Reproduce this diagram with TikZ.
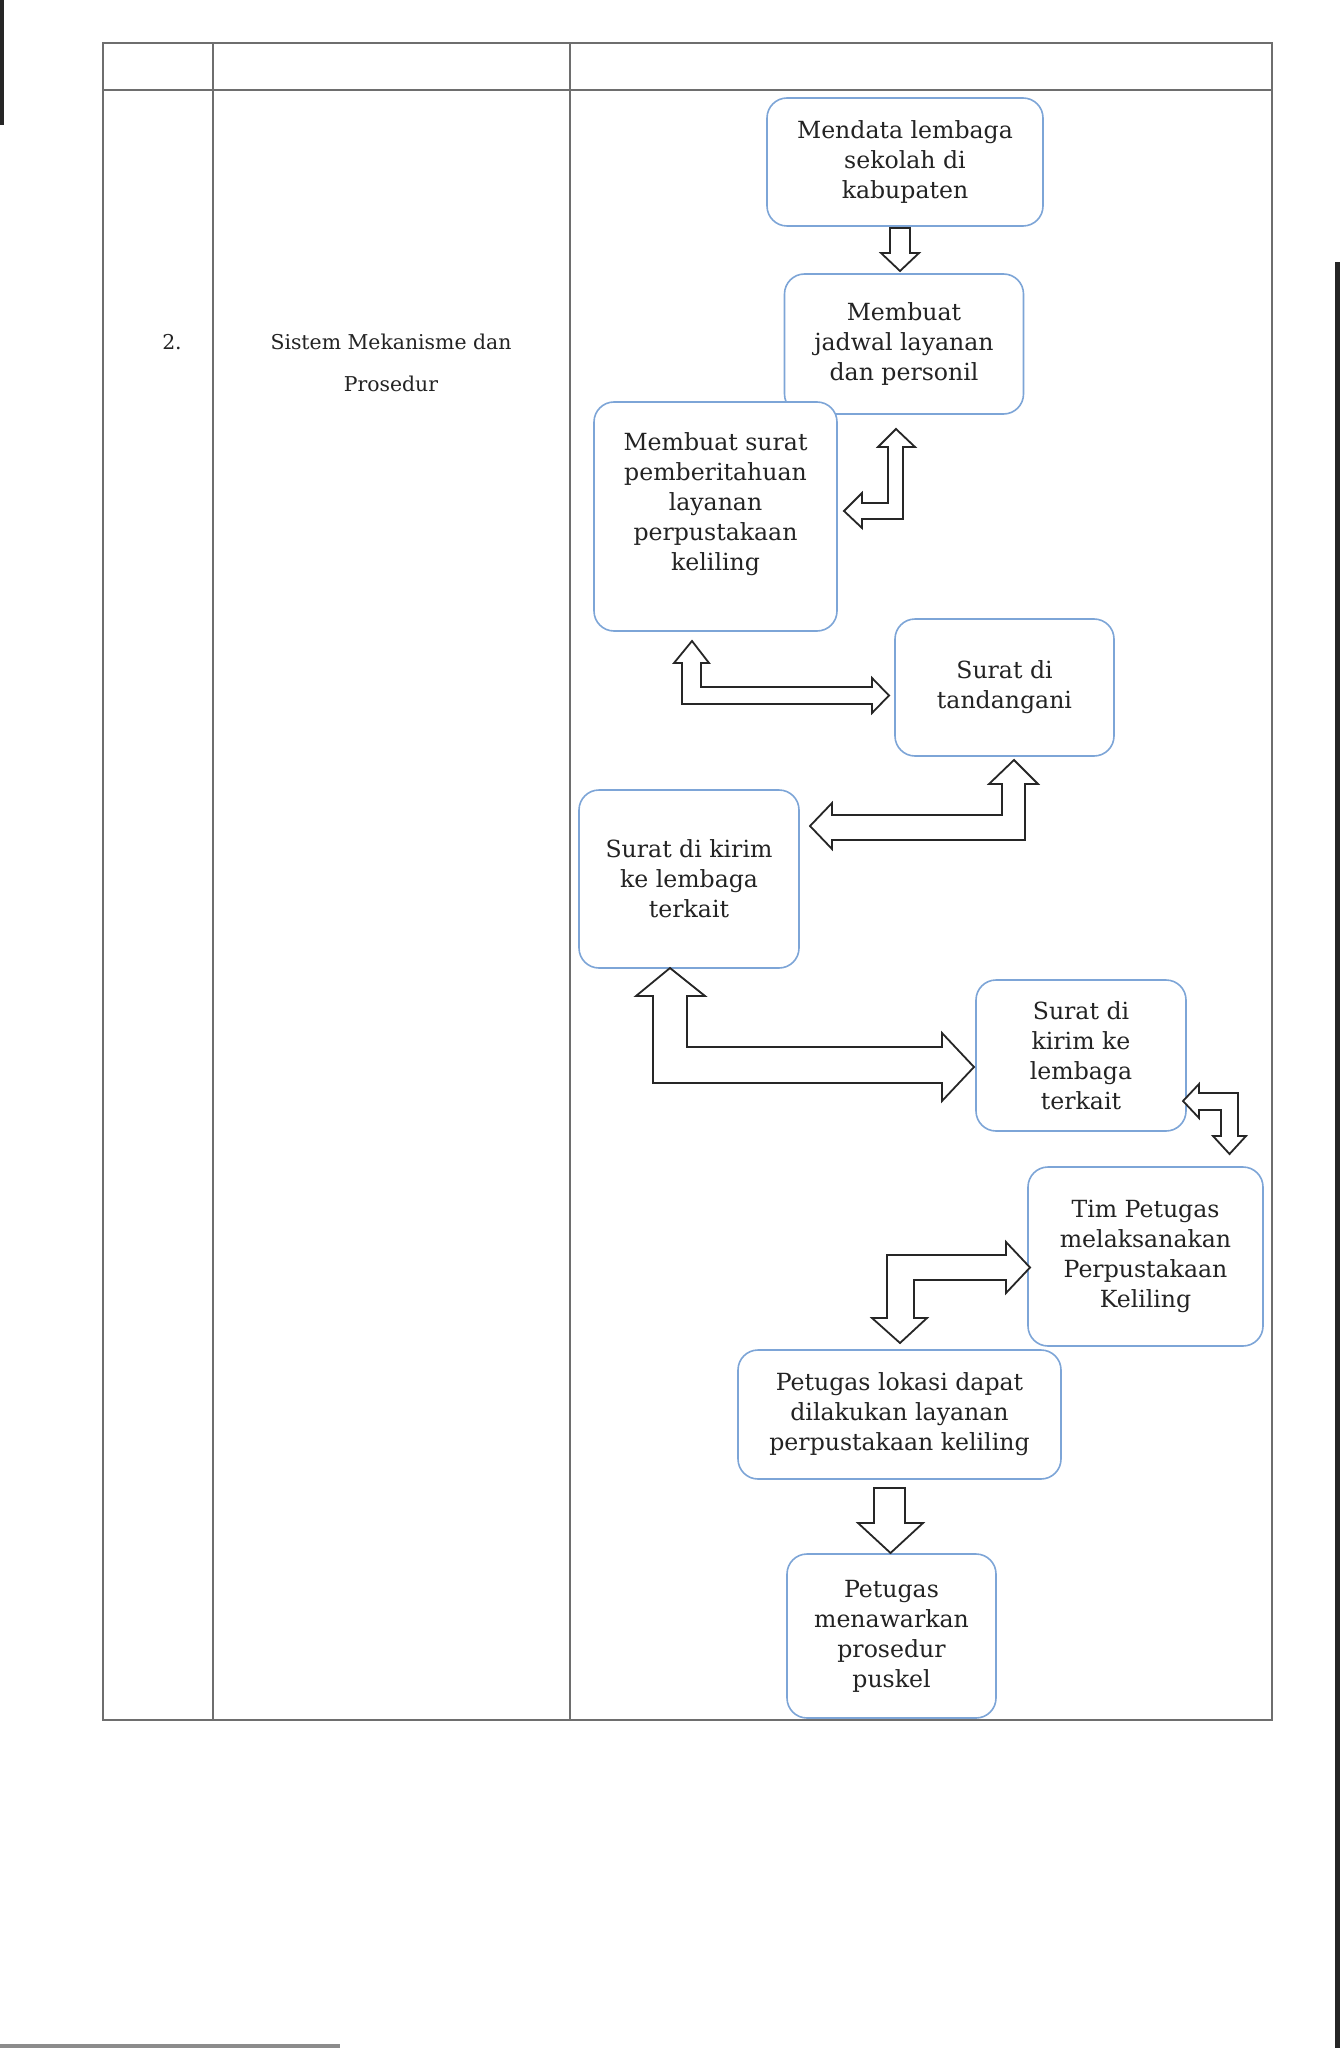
\documentclass[tikz,border=0pt]{standalone}
\usepackage{fontspec}
\setmainfont{DejaVu Serif}
\definecolor{boxline}{RGB}{125,165,215}
\definecolor{gridline}{RGB}{110,110,110}
\definecolor{ink}{RGB}{35,35,35}

\begin{document}
\begin{tikzpicture}[x=0.5pt, y=-0.5pt,
    procbox/.style={draw=boxline, line width=0.8pt, rounded corners=10pt, fill=white,
      align=center, text=ink, inner sep=0pt, font=\fontsize{11.8}{15}\selectfont},
    hollow/.style={draw=black!85, line width=0.9pt, fill=white, line join=miter},
    grid/.style={draw=gridline, line width=0.8pt}]
    \fill[white] (0,0) rectangle (1340,2048);
    \useasboundingbox (0,0) rectangle (1340,2048);

    % scan edges
    \fill[black!85] (0,0) rectangle (4,125);
    \fill[black!85] (1335,262) rectangle (1340,2048);
    \fill[black!45] (0,2044) rectangle (340,2048);

    % table
    \draw[grid] (103,43) rectangle (1272,1720);
    \draw[grid] (103,90) -- (1272,90);
    \draw[grid] (213,43) -- (213,1720);
    \draw[grid] (570,43) -- (570,1720);

    \node[text=ink, font=\fontsize{10.2}{21}\selectfont] (no) at (172,342) {2.};
    \node[text=ink, align=center, font=\fontsize{10.2}{21}\selectfont] (aspek) at (391,363)
        {Sistem Mekanisme dan\\Prosedur};

    % steps
    \node[procbox, minimum width=138pt, minimum height=64pt] (m1) at (905,162)
        {Mendata lembaga\\sekolah di\\kabupaten};
    \node[procbox, minimum width=119.5pt, minimum height=70pt] (m2) at (904,344)
        {Membuat\\jadwal layanan\\dan personil};
    \node[procbox, minimum width=121.5pt, minimum height=114.5pt] (m3) at (715.5,516.5)
        {Membuat surat\\pemberitahuan\\layanan\\perpustakaan\\keliling\\\mbox{}};
    \node[procbox, minimum width=109.5pt, minimum height=68.5pt] (m4) at (1004.5,687.5)
        {Surat di\\tandangani};
    \node[procbox, minimum width=110pt, minimum height=89pt] (m5) at (689,879)
        {Surat di kirim\\ke lembaga\\terkait};
    \node[procbox, minimum width=105pt, minimum height=75.5pt] (m6) at (1081,1055.5)
        {Surat di\\kirim ke\\lembaga\\terkait};
    \node[procbox, minimum width=117.5pt, minimum height=89.5pt] (m7) at (1145.5,1256.5)
        {Tim Petugas\\melaksanakan\\Perpustakaan\\Keliling};
    \node[procbox, minimum width=161.5pt, minimum height=64.5pt] (m8) at (899.5,1414.5)
        {Petugas lokasi dapat\\dilakukan layanan\\perpustakaan keliling};
    \node[procbox, minimum width=104.5pt, minimum height=82pt] (m9) at (891.5,1636)
        {Petugas\\menawarkan\\prosedur\\puskel};

    % block arrows
    \draw[hollow] (890,228) -- (910,228) -- (910,253) -- (919,253) -- (900,271)
        -- (881,253) -- (890,253) -- cycle;
    \draw[hollow] (896,429) -- (915,447) -- (903,447) -- (903,519) -- (862,519)
        -- (862,528) -- (844,511) -- (862,493) -- (862,503) -- (888,503)
        -- (888,447) -- (878,447) -- cycle;
    \draw[hollow] (692,641) -- (709,663) -- (701,663) -- (701,687) -- (872,687)
        -- (872,678) -- (889,695.5) -- (872,713) -- (872,704) -- (682,704)
        -- (682,663) -- (674,663) -- cycle;
    \draw[hollow] (1014,760) -- (1038,784) -- (1025,784) -- (1025,840) -- (832,840)
        -- (832,849) -- (810,826) -- (832,803) -- (832,815) -- (1002,815)
        -- (1002,784) -- (989,784) -- cycle;
    \draw[hollow] (670,968) -- (705,996) -- (687,996) -- (687,1047) -- (942,1047)
        -- (942,1033) -- (974,1067) -- (942,1101) -- (942,1083) -- (653,1083)
        -- (653,996) -- (636,996) -- cycle;
    \draw[hollow] (1183,1101) -- (1199,1084) -- (1199,1093) -- (1238,1093)
        -- (1238,1136) -- (1246,1136) -- (1229.5,1154) -- (1213,1136)
        -- (1221,1136) -- (1221,1110) -- (1199,1110) -- (1199,1118) -- cycle;
    \draw[hollow] (887,1255) -- (1006,1255) -- (1006,1242) -- (1030,1267.5)
        -- (1006,1293) -- (1006,1280) -- (914,1280) -- (914,1318) -- (927,1318)
        -- (900,1343) -- (872,1318) -- (887,1318) -- cycle;
    \draw[hollow] (874,1488) -- (905,1488) -- (905,1523) -- (923,1523)
        -- (890.5,1553) -- (858,1523) -- (874,1523) -- cycle;
\end{tikzpicture}
\end{document}
